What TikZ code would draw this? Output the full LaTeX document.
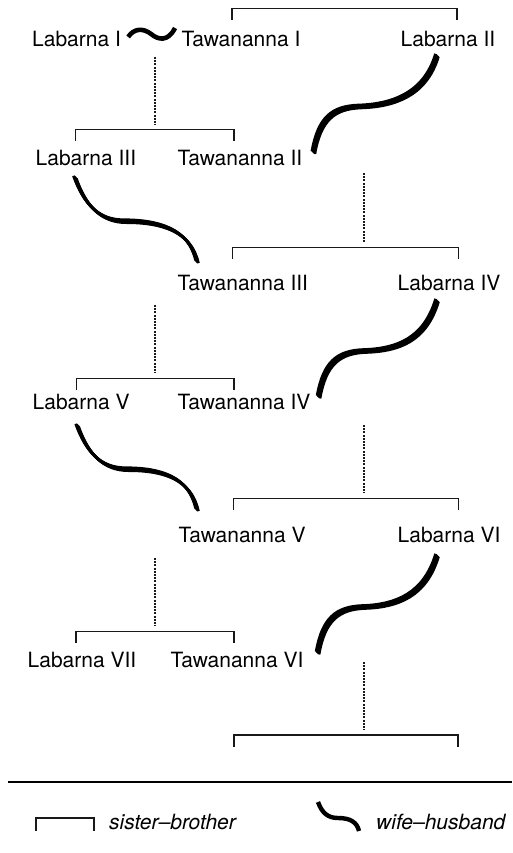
\documentclass[tikz,border=0pt]{standalone}
\usepackage{fontspec}
\setmainfont{TeX Gyre Heros}
\usepackage{tikz}
\usetikzlibrary{calc}

\tikzset{
  person/.style={anchor=base west,inner sep=0pt,text height=15pt,text depth=4pt,
                 font=\fontsize{21}{25}\selectfont},
  sibline/.style={draw=black!90,line width=1.1pt},
  descent/.style={draw=black!90,line width=1.1pt,dash pattern=on 2pt off 1.2pt},
  % broad pen held slanted: the same stroke laid down a few times along the nib
  nibcopy/.style={postaction={draw,line width=2.8pt,line cap=butt,
                  transform canvas={shift={(#1,#1)}}}},
  wed/.style={line width=2.8pt,line cap=butt,
              nibcopy=-1.4,nibcopy=-0.7,nibcopy=0.7,nibcopy=1.4},
  % rising swash: steep, flat, steep
  wedup/.style={wed,to path={.. controls +(6,-34) and +(-26,1) .. ++(46,-46)
                .. controls +(33,-1) and +(-12,40) .. (\tikztotarget)}},
  % falling swash
  weddown/.style={wed,to path={.. controls +(10,28) and +(-25,0) .. ++(50,44)
                  .. controls +(35,0) and +(-7,-32) .. (\tikztotarget)}},
}

% bracket over a sister and her brother: nodes, leg offsets, gap, bar name
\newcommand{\sibs}[6]{%
  \draw[sibline] ([shift={(#3,-#5)}]#1.north) -- ++(0,-11.5) coordinate (#6)
    -| ([shift={(#4,-#5)}]#2.north);}

\begin{document}
\begin{tikzpicture}[x=1pt,y=-1pt]
\useasboundingbox (0,0) rectangle (512,853);

% the six generations
\node[person] (lb1) at (32,47) {Labarna I};
\node[person] (tw1) at (181.5,47) {Tawananna I};
\node[person] (lb2) at (400.5,47) {Labarna II};

\node[person] (lb3) at (35.5,165) {Labarna III};
\node[person] (tw2) at (177.5,165) {Tawananna II};

\node[person] (tw3) at (177.5,290) {Tawananna III};
\node[person] (lb4) at (397.5,290) {Labarna IV};

\node[person] (lb5) at (32.5,409) {Labarna V};
\node[person] (tw4) at (177.5,409) {Tawananna IV};

\node[person] (tw5) at (178.5,542) {Tawananna V};
\node[person] (lb6) at (397.5,542) {Labarna VI};

\node[person] (lb7) at (27.5,667) {Labarna VII};
\node[person] (tw6) at (170.5,667) {Tawananna VI};

% sister--brother brackets
\sibs{tw1}{lb2}{-9}{9}{12}{bar0}
\sibs{lb3}{tw2}{-10}{-6}{9}{bar1}
\sibs{tw3}{lb4}{-10}{9}{16}{bar2}
\sibs{lb5}{tw4}{-5}{-10}{4}{bar3}
\sibs{tw5}{lb6}{-9}{9}{17}{bar4}
\sibs{lb7}{tw6}{-6}{-3}{9}{bar5}
\coordinate (kidL) at (234,747);
\coordinate (kidR) at (458,747);
\draw[sibline] (kidL) -- ++(0,-12) coordinate (bar6) -| (kidR);

% wife--husband swashes
\draw[line width=4.6pt] ([shift={(7,-10)}]lb1.base east)
  .. controls +(6,-9) and +(-8,-6) .. ++(23,-3)
  .. controls +(7,6) and +(-7,14) .. ([shift={(-6.5,-19)}]tw1.base west);
\draw[wedup] ([shift={(11,-7)}]tw2.east) to ([shift={(-11,4)}]lb2.south);
\draw[weddown] ([shift={(-11,8)}]lb3.south) to ([shift={(19.5,-13)}]tw3.north west);
\draw[wedup] ([shift={(8,-6.5)}]tw4.east) to ([shift={(-12,6)}]lb4.south);
\draw[weddown] ([shift={(-4,12)}]lb5.south) to ([shift={(18.5,-17)}]tw5.north west);
\draw[wedup] ([shift={(14,-8.5)}]tw6.east) to ([shift={(-12,9)}]lb6.south);

% descent from each couple to the next pair
\coordinate (c1) at (155,57);
\coordinate (c2) at (364,173);
\coordinate (c3) at (155,305);
\coordinate (c4) at (364,425);
\coordinate (c5) at (155,558);
\coordinate (c6) at (364,662);
\foreach \i in {1,...,6}
  \draw[descent] (c\i) -- ($(c\i |- bar\i)+(0,-5)$);

% key
\draw[line width=1.5pt] (8,782) -- (512,782);
\draw[sibline] (36,831) -- ++(0,-13) -| (94,831);
\node[person,font=\fontsize{21}{25}\selectfont\itshape] (key1) at (109,829) {sister–brother};
\draw[line width=4.4pt] (318,802) .. controls (322,813) and (328,818) .. (338,818)
  .. controls (350,818) and (357,822) .. (359,831);
\node[person,font=\fontsize{21}{25}\selectfont\itshape] (key2) at (376,829) {wife–husband};
\end{tikzpicture}
\end{document}
